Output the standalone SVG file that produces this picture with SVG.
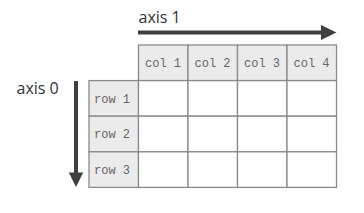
<svg xmlns="http://www.w3.org/2000/svg" width="364" height="213" viewBox="0 0 364 213">
<style>
.hdr{fill:#ebebeb;stroke:#8a8a8a;stroke-width:1.3}
.cell{fill:#ffffff;stroke:#8a8a8a;stroke-width:1.3}
.mono{font-family:"Liberation Mono",monospace;font-size:12px;fill:#666666}
.axis{font-family:"Open Sans","Liberation Sans",sans-serif;font-size:16px;fill:#333333}
.arr{stroke:#404040;stroke-width:4;fill:none}
.head{fill:#404040}
</style>
<rect width="364" height="213" fill="#ffffff"/>
<g id="connectors">
<line class="arr" x1="138" y1="32.5" x2="323" y2="32.5"/>
<polygon class="head" points="321,25 336.5,32.5 321,40"/>
<line class="arr" x1="76" y1="81" x2="76" y2="174"/>
<polygon class="head" points="68.8,172.5 83.2,172.5 76,187"/>
</g>
<g id="axis1"><text class="axis" x="138.5" y="23">axis 1</text></g>
<g id="axis0"><text class="axis" x="16.5" y="94">axis 0</text></g>
<g id="col1"><rect class="hdr" x="138.5" y="45" width="49.5" height="35.6"/><text class="mono" x="145" y="67">col 1</text></g>
<g id="col2"><rect class="hdr" x="188" y="45" width="49.5" height="35.6"/><text class="mono" x="194.5" y="67">col 2</text></g>
<g id="col3"><rect class="hdr" x="237.5" y="45" width="49.5" height="35.6"/><text class="mono" x="244" y="67">col 3</text></g>
<g id="col4"><rect class="hdr" x="287" y="45" width="49.5" height="35.6"/><text class="mono" x="293.5" y="67">col 4</text></g>
<g id="row1"><rect class="hdr" x="89" y="80.6" width="49.5" height="35.6"/><text class="mono" x="94" y="102.5">row 1</text></g>
<g id="row2"><rect class="hdr" x="89" y="116.2" width="49.5" height="35.6"/><text class="mono" x="94" y="138">row 2</text></g>
<g id="row3"><rect class="hdr" x="89" y="151.8" width="49.5" height="35.6"/><text class="mono" x="94" y="173.5">row 3</text></g>
<g id="cells">
<rect class="cell" x="138.5" y="80.6" width="49.5" height="35.6"/>
<rect class="cell" x="188" y="80.6" width="49.5" height="35.6"/>
<rect class="cell" x="237.5" y="80.6" width="49.5" height="35.6"/>
<rect class="cell" x="287" y="80.6" width="49.5" height="35.6"/>
<rect class="cell" x="138.5" y="116.2" width="49.5" height="35.6"/>
<rect class="cell" x="188" y="116.2" width="49.5" height="35.6"/>
<rect class="cell" x="237.5" y="116.2" width="49.5" height="35.6"/>
<rect class="cell" x="287" y="116.2" width="49.5" height="35.6"/>
<rect class="cell" x="138.5" y="151.8" width="49.5" height="35.6"/>
<rect class="cell" x="188" y="151.8" width="49.5" height="35.6"/>
<rect class="cell" x="237.5" y="151.8" width="49.5" height="35.6"/>
<rect class="cell" x="287" y="151.8" width="49.5" height="35.6"/>
</g>
</svg>
